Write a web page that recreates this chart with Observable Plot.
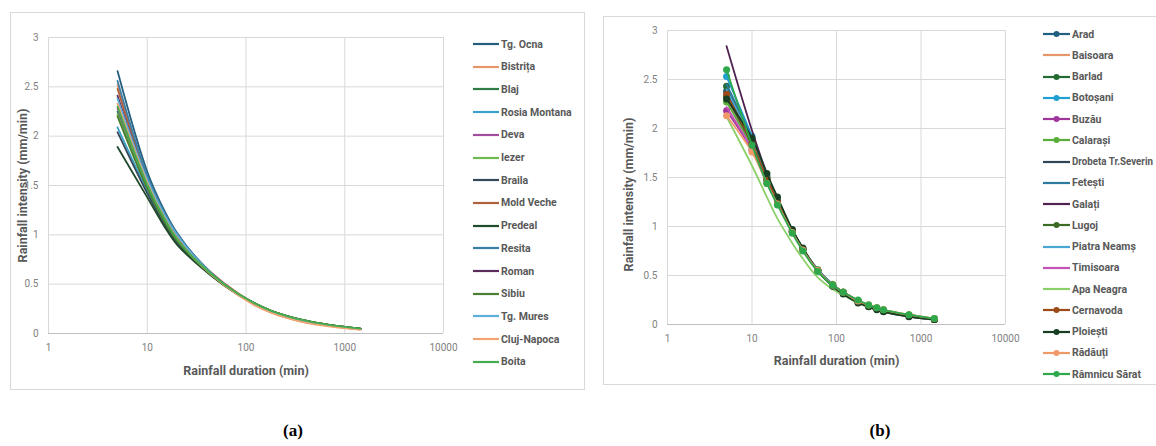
<!DOCTYPE html>
<html><head><meta charset="utf-8">
<script src="https://cdn.jsdelivr.net/npm/d3@7"></script>
<script src="https://cdn.jsdelivr.net/npm/@observablehq/plot@0.6"></script>
<style>
html,body{margin:0;padding:0;background:#fff;}
body{width:1156px;height:446px;overflow:hidden;position:relative;font-family:Roboto,"Liberation Sans",sans-serif;}
.box{position:absolute;border:1px solid #d9d9d9;box-sizing:border-box;background:#fff;}
.chart{position:absolute;}
.leg{position:absolute;display:flex;align-items:center;height:14px;font-weight:bold;font-size:10.5px;color:#595959;white-space:nowrap;}
.leg svg{display:block;margin-right:2px;}
.leg span{display:inline-block;transform-origin:left center;}
.panel-label{position:absolute;font-family:"Liberation Serif",serif;font-weight:bold;font-size:17px;color:#000;transform:translate(-50%,-50%);}
</style>
</head><body>
<div class="box" style="left:10px;top:12px;width:575px;height:378px;"></div>
<div class="box" style="left:603px;top:16px;width:570px;height:369px;"></div>
<div id="chartA" class="chart" style="left:10px;top:12px;"></div>
<div id="chartB" class="chart" style="left:603px;top:16px;"></div>
<div id="legA"></div>
<div id="legB"></div>
<div class="panel-label" style="left:293px;top:431px;">(a)</div>
<div class="panel-label" style="left:880px;top:431px;">(b)</div>
<script>
// ---------- shared axis ticks ----------
const X_TICKS = [1, 10, 100, 1000, 10000];
const Y_TICKS = [0, 0.5, 1, 1.5, 2, 2.5, 3];
const X_TITLE = "Rainfall duration (min)";
const Y_TITLE = "Rainfall intensity (mm/min)";

// ---------- panel (a) ----------
const DUR_A = [5, 10, 15, 20, 30, 60, 120, 180, 360, 720, 1440];
const STATIONS_A = ["Tg. Ocna", "Bistrița", "Blaj", "Rosia Montana", "Deva", "Iezer", "Braila", "Mold Veche", "Predeal", "Resita", "Roman", "Sibiu", "Tg. Mures", "Cluj-Napoca", "Boita"];
const COLORS_A = ["#24607e", "#e8956a", "#2f7d45", "#3aa0cc", "#a24c9e", "#6dbb4f", "#34495a", "#b0603a", "#1f4a2c", "#3b7ea6", "#5b2d5d", "#4d7f33", "#5cb0dc", "#f2a36f", "#45ad4f"];
const tgOcna    = [2.66, 1.64, 1.24, 1.02, 0.79, 0.50, 0.30, 0.22, 0.13, 0.08, 0.045];
const bistrita  = [2.52, 1.58, 1.21, 1.00, 0.78, 0.50, 0.30, 0.21, 0.12, 0.075, 0.04];
const blaj      = [2.25, 1.50, 1.15, 0.96, 0.76, 0.49, 0.30, 0.22, 0.13, 0.08, 0.045];
const rosia     = [2.09, 1.45, 1.13, 0.95, 0.75, 0.49, 0.30, 0.22, 0.13, 0.08, 0.045];
const deva      = [2.28, 1.52, 1.17, 0.97, 0.77, 0.50, 0.30, 0.22, 0.13, 0.08, 0.045];
const iezer     = [2.22, 1.48, 1.14, 0.95, 0.75, 0.49, 0.30, 0.22, 0.13, 0.08, 0.045];
const braila    = [2.04, 1.42, 1.10, 0.92, 0.74, 0.49, 0.31, 0.23, 0.14, 0.085, 0.05];
const moldVeche = [2.48, 1.57, 1.20, 0.99, 0.78, 0.51, 0.31, 0.23, 0.14, 0.085, 0.05];
const predeal   = [1.89, 1.38, 1.08, 0.90, 0.73, 0.49, 0.31, 0.23, 0.14, 0.085, 0.05];
const resita    = [2.56, 1.60, 1.22, 1.01, 0.79, 0.50, 0.30, 0.22, 0.13, 0.08, 0.045];
const roman     = [2.41, 1.55, 1.19, 0.98, 0.77, 0.50, 0.30, 0.22, 0.13, 0.08, 0.045];
const sibiu     = [2.20, 1.47, 1.13, 0.94, 0.75, 0.49, 0.31, 0.23, 0.14, 0.085, 0.05];
const tgMures   = [2.38, 1.56, 1.20, 1.00, 0.78, 0.50, 0.30, 0.22, 0.13, 0.08, 0.045];
const cluj      = [2.33, 1.53, 1.17, 0.97, 0.76, 0.49, 0.29, 0.21, 0.12, 0.07, 0.04];
const boita     = [2.30, 1.51, 1.16, 0.96, 0.76, 0.50, 0.31, 0.23, 0.14, 0.085, 0.05];
const SERIES_A = [tgOcna, bistrita, blaj, rosia, deva, iezer, braila, moldVeche, predeal, resita, roman, sibiu, tgMures, cluj, boita];

// ---------- panel (b) ----------
const DUR_B = [5, 10, 15, 20, 30, 40, 60, 90, 120, 180, 240, 300, 360, 720, 1440];
const STATIONS_B = ["Arad", "Baisoara", "Barlad", "Botoșani", "Buzău", "Calarași", "Drobeta Tr.Severin", "Fetești", "Galați", "Lugoj", "Piatra Neamș", "Timisoara", "Apa Neagra", "Cernavoda", "Ploiești", "Rădăuți", "Râmnicu Sărat"];
const COLORS_B = ["#1f5f80", "#e8956a", "#246b33", "#1fa0d0", "#a0359c", "#5aad3a", "#2f4556", "#2e7aa0", "#4f2250", "#3c6b26", "#4aa6d4", "#c455b8", "#8cd06a", "#9c4a18", "#173d22", "#f09a6a", "#2ea84b"];
const MARKED_B = ["Arad", "Barlad", "Botoșani", "Buzău", "Calarași", "Lugoj", "Cernavoda", "Ploiești", "Rădăuți", "Râmnicu Sărat"];
const arad      = [2.38, 1.86, 1.49, 1.26, 0.95, 0.76, 0.55, 0.40, 0.33, 0.24, 0.19, 0.16, 0.14, 0.09, 0.05];
const baisoara  = [2.30, 1.82, 1.47, 1.25, 0.95, 0.77, 0.56, 0.41, 0.33, 0.24, 0.20, 0.17, 0.15, 0.09, 0.05];
const barlad    = [2.43, 1.88, 1.50, 1.27, 0.96, 0.77, 0.55, 0.40, 0.32, 0.23, 0.19, 0.16, 0.14, 0.09, 0.05];
const botosani  = [2.53, 1.92, 1.52, 1.28, 0.96, 0.77, 0.55, 0.40, 0.32, 0.23, 0.19, 0.16, 0.14, 0.09, 0.05];
const buzau     = [2.18, 1.78, 1.45, 1.24, 0.94, 0.76, 0.55, 0.40, 0.33, 0.24, 0.19, 0.16, 0.14, 0.09, 0.05];
const calarasi  = [2.27, 1.81, 1.47, 1.25, 0.95, 0.77, 0.56, 0.41, 0.33, 0.24, 0.20, 0.17, 0.15, 0.10, 0.06];
const drobeta   = [2.32, 1.84, 1.48, 1.26, 0.96, 0.77, 0.56, 0.41, 0.33, 0.24, 0.19, 0.16, 0.14, 0.09, 0.05];
const fetesti   = [2.45, 1.90, 1.51, 1.27, 0.96, 0.77, 0.55, 0.40, 0.32, 0.23, 0.19, 0.16, 0.14, 0.09, 0.05];
const galati    = [2.84, 1.98, 1.54, 1.28, 0.96, 0.77, 0.55, 0.40, 0.32, 0.23, 0.18, 0.15, 0.13, 0.08, 0.05];
const lugoj     = [2.33, 1.84, 1.48, 1.26, 0.95, 0.77, 0.55, 0.40, 0.33, 0.24, 0.19, 0.16, 0.14, 0.09, 0.05];
const piatra    = [2.40, 1.87, 1.50, 1.27, 0.96, 0.77, 0.56, 0.41, 0.33, 0.24, 0.19, 0.16, 0.14, 0.09, 0.05];
const timisoara = [2.22, 1.79, 1.46, 1.24, 0.94, 0.76, 0.55, 0.40, 0.33, 0.24, 0.19, 0.16, 0.14, 0.09, 0.05];
const apaNeagra = [2.12, 1.62, 1.30, 1.08, 0.83, 0.67, 0.48, 0.36, 0.30, 0.22, 0.18, 0.15, 0.13, 0.085, 0.05];
const cernavoda = [2.35, 1.85, 1.49, 1.26, 0.95, 0.77, 0.55, 0.40, 0.33, 0.24, 0.19, 0.16, 0.14, 0.09, 0.05];
const ploiesti  = [2.30, 1.90, 1.54, 1.30, 0.97, 0.78, 0.55, 0.39, 0.31, 0.22, 0.18, 0.15, 0.13, 0.08, 0.05];
const radauti   = [2.13, 1.76, 1.44, 1.23, 0.94, 0.76, 0.55, 0.40, 0.33, 0.24, 0.20, 0.17, 0.15, 0.10, 0.06];
const ramnicu   = [2.60, 1.83, 1.44, 1.22, 0.93, 0.75, 0.54, 0.40, 0.33, 0.25, 0.20, 0.17, 0.15, 0.10, 0.06];
const SERIES_B = [arad, baisoara, barlad, botosani, buzau, calarasi, drobeta, fetesti, galati, lugoj, piatra, timisoara, apaNeagra, cernavoda, ploiesti, radauti, ramnicu];

function tidy(stations, durs, series) {
  return stations.flatMap((s, i) => durs.map((t, j) => ({station: s, t, v: series[i][j]})));
}
const rowsA = tidy(STATIONS_A, DUR_A, SERIES_A);
const rowsB = tidy(STATIONS_B, DUR_B, SERIES_B);

function frameMarks(titleDx, titleDy, xTitleDy) {
  return [
    Plot.ruleX(X_TICKS, {stroke: "#d9d9d9", strokeWidth: 1}),
    Plot.ruleY(Y_TICKS, {stroke: "#d9d9d9", strokeWidth: 1}),
    Plot.ruleY([0], {stroke: "#bfbfbf", strokeWidth: 1}),
    Plot.axisX({ticks: X_TICKS, tickFormat: d => String(d), tickSize: 0, tickPadding: 10, label: null, fontSize: 10, color: "#7f7f7f"}),
    Plot.axisY({ticks: Y_TICKS, tickFormat: d => String(d), tickSize: 0, tickPadding: 10, label: null, fontSize: 10, color: "#7f7f7f"}),
    Plot.text([X_TITLE], {frameAnchor: "bottom", lineAnchor: "middle", dy: xTitleDy, fontSize: 12.5, fontWeight: "bold", fill: "#595959", text: d => d}),
    Plot.text([Y_TITLE], {frameAnchor: "left", textAnchor: "middle", lineAnchor: "middle", rotate: -90, dx: titleDx, dy: titleDy, fontSize: 12.5, fontWeight: "bold", fill: "#595959", text: d => d})
  ];
}

const chartA = Plot.plot({
  width: 450, height: 377,
  marginLeft: 38, marginRight: 17, marginTop: 25, marginBottom: 56,
  style: {fontFamily: "Roboto, sans-serif", background: "transparent", overflow: "visible"},
  x: {type: "log", domain: [1, 10000]},
  y: {domain: [0, 3]},
  color: {domain: STATIONS_A, range: COLORS_A},
  marks: [
    ...frameMarks(-26, 0, 37),
    Plot.line(rowsA, {x: "t", y: "v", z: "station", stroke: "station", curve: "catmull-rom", strokeWidth: 1.8})
  ]
});
document.getElementById("chartA").appendChild(chartA);

const chartB = Plot.plot({
  width: 420, height: 368,
  marginLeft: 64, marginRight: 18, marginTop: 14, marginBottom: 60,
  style: {fontFamily: "Roboto, sans-serif", background: "transparent", overflow: "visible"},
  x: {type: "log", domain: [1, 10000]},
  y: {domain: [0, 3]},
  color: {domain: STATIONS_B, range: COLORS_B},
  marks: [
    ...frameMarks(-39, 17, 36),
    ...STATIONS_B.flatMap(s => {
      const rows = rowsB.filter(r => r.station === s);
      const ms = [Plot.line(rows, {x: "t", y: "v", stroke: "station", curve: "catmull-rom", strokeWidth: 1.8})];
      if (MARKED_B.includes(s)) ms.push(Plot.dot(rows, {x: "t", y: "v", fill: "station", r: 3.5}));
      return ms;
    })
  ]
});
document.getElementById("chartB").appendChild(chartB);

// ---------- legends ----------
function legend(containerId, stations, colors, marked, left, top0, step, swW, maxRight) {
  const c = document.getElementById(containerId);
  stations.forEach((s, i) => {
    const d = document.createElement("div");
    d.className = "leg";
    d.style.left = left + "px";
    d.style.top = (top0 + i * step - 7) + "px";
    const m = marked.includes(s);
    d.innerHTML = `<svg width="${swW}" height="10"><line x1="0" x2="${swW}" y1="5" y2="5" stroke="${colors[i]}" stroke-width="2.2"/>${m ? `<circle cx="${swW/2}" cy="5" r="3" fill="${colors[i]}"/>` : ""}</svg>`;
    const sp = document.createElement("span");
    sp.textContent = s;
    d.appendChild(sp);
    c.appendChild(d);
    const r = sp.getBoundingClientRect();
    if (r.right > maxRight) {
      sp.style.transform = `scaleX(${((maxRight - r.left) / r.width).toFixed(3)})`;
    }
  });
}
legend("legA", STATIONS_A, COLORS_A, [], 473, 44, 22.7, 26, 584);
legend("legB", STATIONS_B, COLORS_B, MARKED_B, 1043, 34, 21.25, 27, 1153);
</script>
</body></html>
